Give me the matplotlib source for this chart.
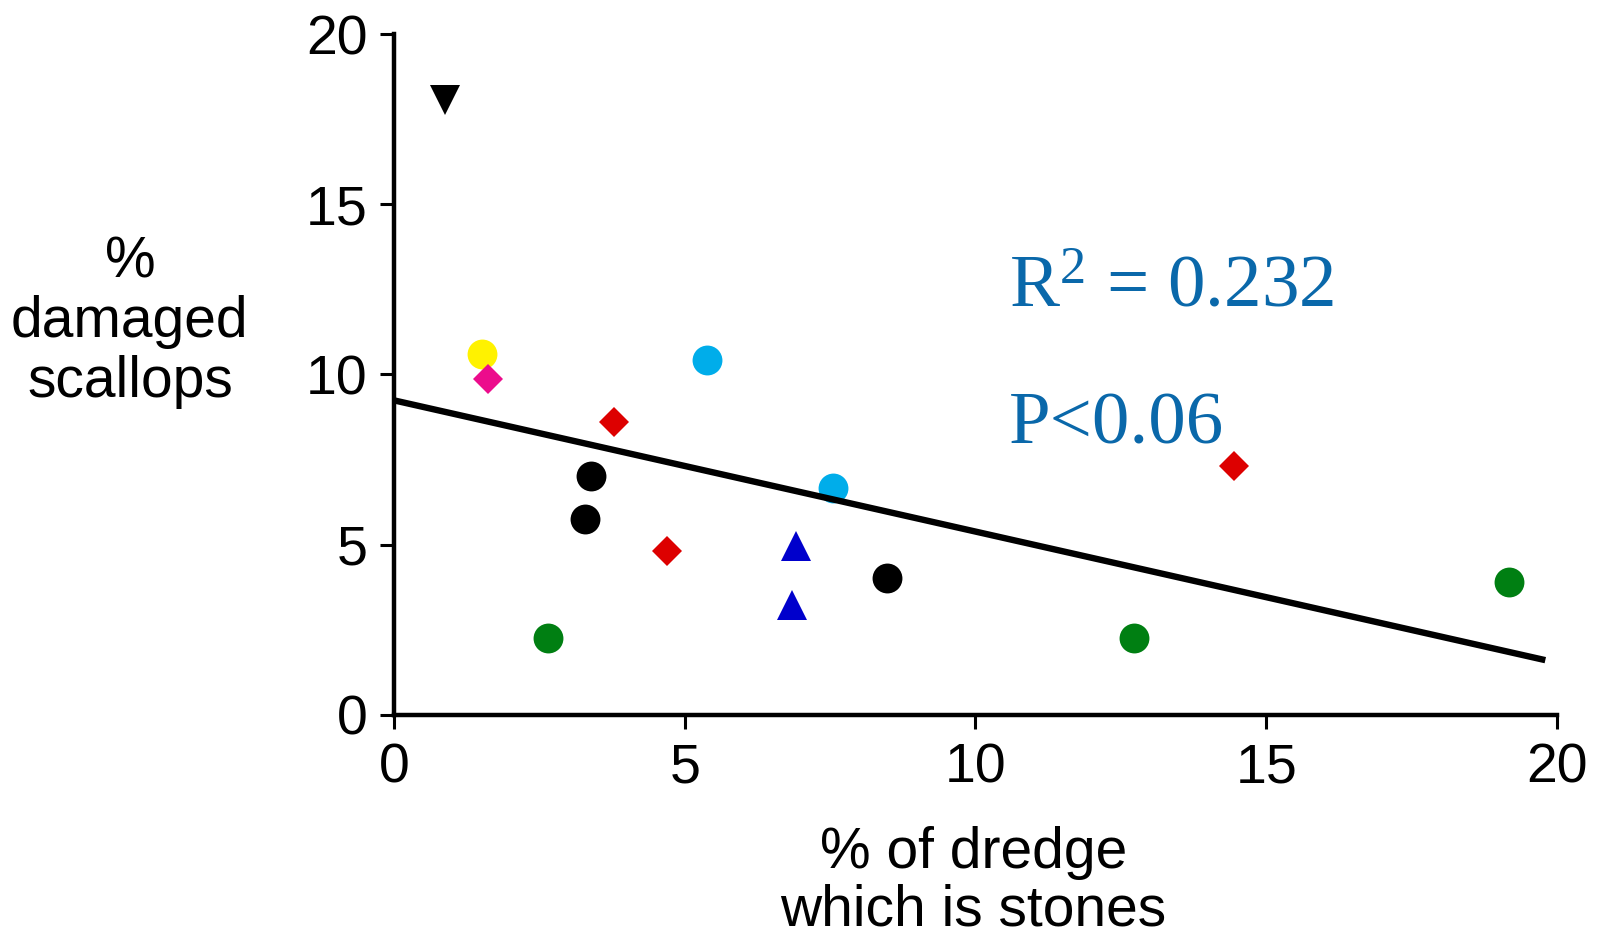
import matplotlib
matplotlib.use("Agg")
import matplotlib.pyplot as plt

# ---- data ----
circle_black_x = [3.38, 3.28, 8.47]
circle_black_y = [7.03, 5.77, 4.01]
circle_green_x = [2.65, 12.73, 19.18]
circle_green_y = [2.27, 2.27, 3.92]
circle_cyan_x = [5.38, 7.55]
circle_cyan_y = [10.43, 6.67]
circle_yellow_x = [1.51]
circle_yellow_y = [10.61]
diamond_red_x = [3.79, 4.70, 14.44]
diamond_red_y = [8.61, 4.81, 7.32]
diamond_pink_x = [1.61]
diamond_pink_y = [9.87]
tri_blue_x = [6.92, 6.85]
tri_blue_y = [4.96, 3.23]
tri_down_x = [0.88]
tri_down_y = [18.06]
fit_x = [0.0, 19.8]
fit_y = [9.24, 1.61]

xticks = [0, 5, 10, 15, 20]
yticks = [0, 5, 10, 15, 20]

plt.rcParams['font.family'] = ['Liberation Sans', 'DejaVu Sans']
plt.rcParams['mathtext.fontset'] = 'custom'
plt.rcParams['mathtext.rm'] = 'Liberation Serif'
plt.rcParams['mathtext.it'] = 'Liberation Serif:italic'
plt.rcParams['mathtext.bf'] = 'Liberation Serif:bold'

fig = plt.figure(figsize=(15.98, 9.40), dpi=100)
ax = fig.add_axes([0.2466, 0.2394, 0.9743 - 0.2466, 0.9638 - 0.2394])

ms_circ = 21.5
ms_dia = 15.5
ms_tri = 21

ax.plot(circle_black_x, circle_black_y, 'o', color='black', ms=ms_circ, mew=0, clip_on=False, zorder=3)
ax.plot(circle_green_x, circle_green_y, 'o', color='#007f12', ms=ms_circ, mew=0, clip_on=False, zorder=3)
ax.plot(circle_cyan_x, circle_cyan_y, 'o', color='#00adea', ms=ms_circ, mew=0, clip_on=False, zorder=3)
ax.plot(circle_yellow_x, circle_yellow_y, 'o', color='#fff200', ms=ms_circ, mew=0, clip_on=False, zorder=3)
ax.plot(diamond_red_x, diamond_red_y, 'D', color='#dd0000', ms=ms_dia, mew=0, clip_on=False, zorder=3)
ax.plot(diamond_pink_x, diamond_pink_y, 'D', color='#ec0c8c', ms=ms_dia, mew=0, clip_on=False, zorder=3)
ax.plot(tri_blue_x, tri_blue_y, '^', color='#0000cc', ms=ms_tri, mew=0, clip_on=False, zorder=3)
ax.plot(tri_down_x, tri_down_y, 'v', color='black', ms=ms_tri, mew=0, clip_on=False, zorder=3)

ax.plot(fit_x, fit_y, '-', color='black', lw=4.6, solid_capstyle='butt', zorder=4, clip_on=False)

ax.set_xlim(0, 20)
ax.set_ylim(0, 20)
ax.set_xticks(xticks)
ax.set_yticks(yticks)
ax.set_xticklabels([str(v) for v in xticks])
ax.set_yticklabels([str(v) for v in yticks])

for s in ['top', 'right']:
    ax.spines[s].set_visible(False)
for s in ['left', 'bottom']:
    ax.spines[s].set_linewidth(3.2)

ax.tick_params(axis='both', direction='out', length=10, width=2.2, labelsize=40, colors='black')
ax.tick_params(axis='x', pad=10)
ax.tick_params(axis='y', pad=9)

fig.text(0.0813, 0.657, "%\ndamaged\nscallops", ha='center', va='center', fontsize=41,
         linespacing=1.13)
fig.text(0.609, 0.062, "% of dredge\nwhich is stones", ha='center', va='center', fontsize=41,
         linespacing=1.08)

tcolor = '#0a68aa'
serif = ['Liberation Serif', 'DejaVu Serif']
ax.text(10.57, 12.0, r"$\mathrm{R}^{2}$ = 0.232", fontsize=54, color=tcolor,
        family=serif, ha='left', va='baseline')
ax.text(10.57, 7.98, "P<0.06", fontsize=54, color=tcolor,
        family=serif, ha='left', va='baseline')

fig.savefig("out.png", dpi=100)
